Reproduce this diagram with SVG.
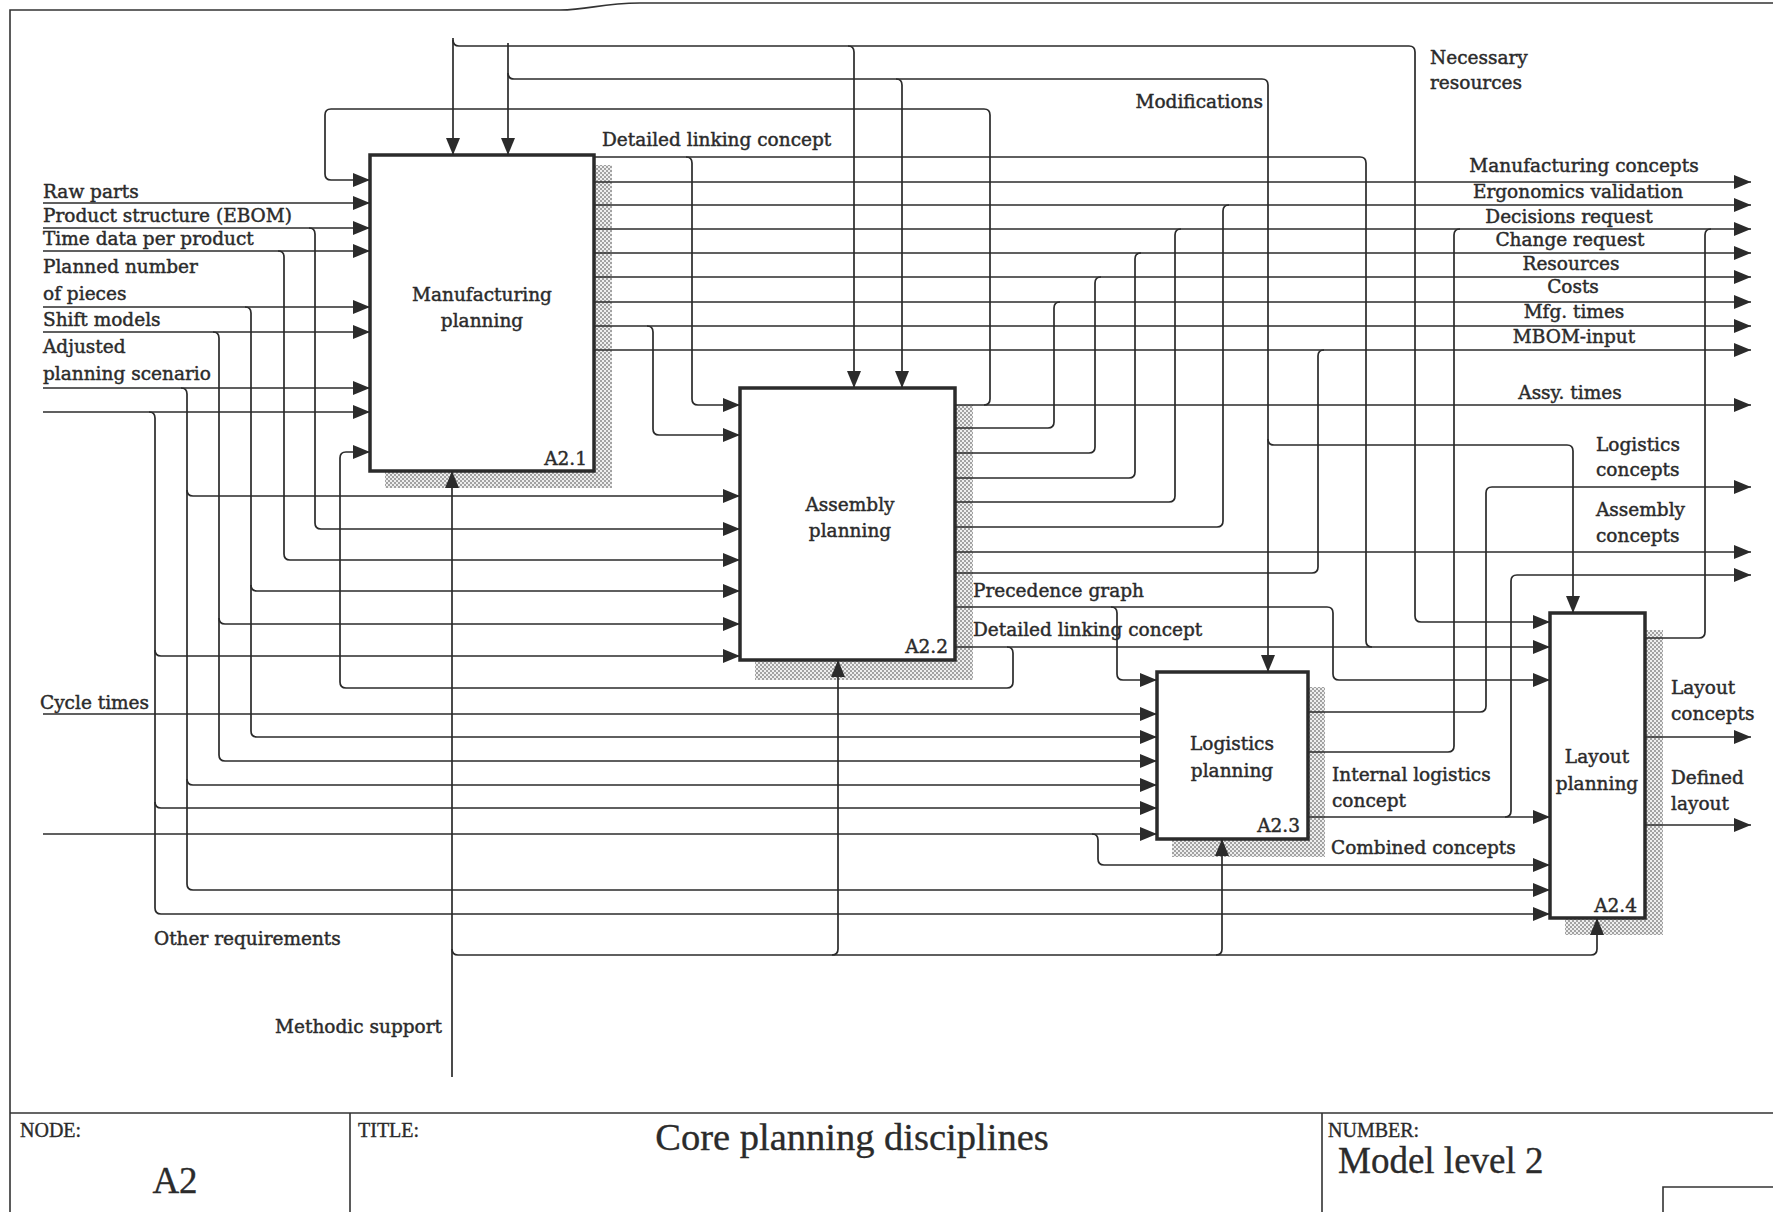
<svg xmlns="http://www.w3.org/2000/svg" width="1773" height="1212" viewBox="0 0 1773 1212">
  <defs>
    <marker id="ah" markerUnits="userSpaceOnUse" markerWidth="18" markerHeight="14" refX="17" refY="7" orient="auto">
      <path d="M0,0 L17,7 L0,14 z" fill="#2b2b2b"/>
    </marker>
    <pattern id="hatch" width="4" height="4" patternUnits="userSpaceOnUse">
      <rect width="4" height="4" fill="#eeeeee"/>
      <rect width="2" height="2" fill="#a2a2a2"/>
      <rect x="2" y="2" width="2" height="2" fill="#a2a2a2"/>
    </pattern>
    <style>
      .ln { fill: none; stroke: #2b2b2b; stroke-width: 1.7; }
      .ar { marker-end: url(#ah); }
      .box { fill: #fff; stroke: #2b2b2b; stroke-width: 3.5; }
      .sh { fill: url(#hatch); }
      .frame { fill: none; stroke: #333; stroke-width: 1.6; }
      .lbl { font-family: "DejaVu Serif", "Liberation Serif", serif; font-size: 18.5px; fill: #2b2b2b; stroke: #2b2b2b; stroke-width: 0.45; }
      .mid { text-anchor: middle; }
      .end { text-anchor: end; }
      .tb { font-family: "Liberation Serif", "DejaVu Serif", serif; fill: #2b2b2b; stroke: #2b2b2b; stroke-width: 0.35; }
    </style>
  </defs>

  <rect width="1773" height="1212" fill="#fff"/>

  <!-- sheet frame and title block -->
  <g id="frame">
    <path class="frame" d="M10,1212 V10 H560 C590,10 600,3 640,3 H1773"/>
    <path class="frame" d="M10,1113 H1773 M350,1113 V1212 M1322,1113 V1212 M1663,1212 V1187 H1773"/>
    <text class="tb" x="20" y="1137" font-size="20">NODE:</text>
    <text class="tb mid" x="175" y="1193" font-size="37">A2</text>
    <text class="tb" x="358" y="1137" font-size="20">TITLE:</text>
    <text class="tb mid" x="852" y="1150" font-size="38.5">Core planning disciplines</text>
    <text class="tb" x="1328" y="1137" font-size="20">NUMBER:</text>
    <text class="tb" x="1338" y="1173" font-size="37">Model level 2</text>
  </g>

  <!-- activity boxes -->
  <g id="node-a21">
    <rect class="sh" x="385" y="165" width="227" height="323"/>
    <rect class="box" x="370" y="155" width="224" height="316"/>
    <text class="lbl mid" x="482" y="301">Manufacturing</text>
    <text class="lbl mid" x="482" y="327">planning</text>
    <text class="lbl end" x="587" y="465">A2.1</text>
  </g>
  <g id="node-a22">
    <rect class="sh" x="755" y="405" width="218" height="275"/>
    <rect class="box" x="740" y="388" width="215" height="272"/>
    <text class="lbl mid" x="850" y="511">Assembly</text>
    <text class="lbl mid" x="850" y="537">planning</text>
    <text class="lbl end" x="948" y="653">A2.2</text>
  </g>
  <g id="node-a23">
    <rect class="sh" x="1172" y="687" width="153" height="170"/>
    <rect class="box" x="1157" y="672" width="151" height="167"/>
    <text class="lbl mid" x="1232" y="750">Logistics</text>
    <text class="lbl mid" x="1232" y="777">planning</text>
    <text class="lbl end" x="1300" y="832">A2.3</text>
  </g>
  <g id="node-a24">
    <rect class="sh" x="1565" y="630" width="98" height="305"/>
    <rect class="box" x="1550" y="613" width="95" height="305"/>
    <text class="lbl mid" x="1597" y="763">Layout</text>
    <text class="lbl mid" x="1597" y="790">planning</text>
    <text class="lbl end" x="1637" y="912">A2.4</text>
  </g>

  <!-- arrows -->
  <g id="connectors">
    <!-- controls from the top -->
    <path class="ln ar" d="M453,38 V155"/>
    <path class="ln ar" d="M508,43 V155"/>
    <path class="ln ar" d="M453,40 Q453,46 459,46 H1409 Q1415,46 1415,52 V616 Q1415,622 1421,622 H1550"/>
    <path class="ln ar" d="M848,46 Q854,46 854,52 V388"/>
    <path class="ln ar" d="M508,73 Q508,79 514,79 H1262 Q1268,79 1268,85 V672"/>
    <path class="ln ar" d="M896,79 Q902,79 902,85 V388"/>
    <path class="ln ar" d="M1268,439 Q1268,445 1274,445 H1567 Q1573,445 1573,451 V613"/>

    <!-- Assy. times and feedback to A2.1 -->
    <path class="ln ar" d="M955,405 H1751"/>
    <path class="ln ar" d="M984,405 Q990,405 990,399 V115 Q990,109 984,109 H331 Q325,109 325,115 V174 Q325,180 331,180 H370"/>

    <!-- outputs of A2.1 -->
    <path class="ln ar" d="M594,157 H1360 Q1366,157 1366,163 V641 Q1366,647 1372,647 H1550"/>
    <path class="ln ar" d="M686,157 Q692,157 692,163 V399 Q692,405 698,405 H740"/>
    <path class="ln ar" d="M594,182 H1751"/>
    <path class="ln ar" d="M594,205 H1751"/>
    <path class="ln ar" d="M594,229 H1751"/>
    <path class="ln ar" d="M594,253 H1751"/>
    <path class="ln ar" d="M594,277 H1751"/>
    <path class="ln ar" d="M594,302 H1751"/>
    <path class="ln ar" d="M594,326 H1751"/>
    <path class="ln ar" d="M647,326 Q653,326 653,332 V429 Q653,435 659,435 H740"/>
    <path class="ln ar" d="M594,350 H1751"/>

    <!-- outputs of A2.2 joining the output bundle -->
    <path class="ln" d="M955,428 H1048 Q1054,428 1054,422 V308 Q1054,302 1060,302"/>
    <path class="ln" d="M955,453 H1089 Q1095,453 1095,447 V283 Q1095,277 1101,277"/>
    <path class="ln" d="M955,478 H1129 Q1135,478 1135,472 V259 Q1135,253 1141,253"/>
    <path class="ln" d="M955,502 H1169 Q1175,502 1175,496 V235 Q1175,229 1181,229"/>
    <path class="ln" d="M955,527 H1217 Q1223,527 1223,521 V211 Q1223,205 1229,205"/>
    <path class="ln ar" d="M955,552 H1751"/>
    <path class="ln" d="M955,573 H1312 Q1318,573 1318,567 V356 Q1318,350 1324,350"/>
    <path class="ln ar" d="M955,607 H1327 Q1333,607 1333,613 V674 Q1333,680 1339,680 H1550"/>
    <path class="ln ar" d="M1111,607 Q1117,607 1117,613 V674 Q1117,680 1123,680 H1157"/>
    <path class="ln" d="M955,647 H1372"/>
    <path class="ln ar" d="M1007,647 Q1013,647 1013,653 V682 Q1013,688 1007,688 H346 Q340,688 340,682 V458 Q340,452 346,452 H370"/>

    <!-- outputs of A2.3 -->
    <path class="ln ar" d="M1308,712 H1480 Q1486,712 1486,706 V493 Q1486,487 1492,487 H1751"/>
    <path class="ln" d="M1308,752 H1448 Q1454,752 1454,746 V235 Q1454,229 1460,229"/>
    <path class="ln ar" d="M1308,817 H1550"/>
    <path class="ln ar" d="M1505,817 Q1511,817 1511,811 V581 Q1511,575 1517,575 H1751"/>

    <!-- outputs of A2.4 -->
    <path class="ln" d="M1645,638 H1699 Q1705,638 1705,632 V235 Q1705,229 1711,229"/>
    <path class="ln ar" d="M1645,737 H1751"/>
    <path class="ln ar" d="M1645,825 H1751"/>

    <!-- external inputs -->
    <path class="ln ar" d="M43,203 H370"/>
    <path class="ln ar" d="M43,228 H370"/>
    <path class="ln ar" d="M309,228 Q315,228 315,234 V523 Q315,529 321,529 H740"/>
    <path class="ln ar" d="M43,251 H370"/>
    <path class="ln ar" d="M278,251 Q284,251 284,257 V554 Q284,560 290,560 H740"/>
    <path class="ln ar" d="M43,307 H370"/>
    <path class="ln ar" d="M245,307 Q251,307 251,313 V731 Q251,737 257,737 H1157"/>
    <path class="ln ar" d="M251,585 Q251,591 257,591 H740"/>
    <path class="ln ar" d="M43,332 H370"/>
    <path class="ln ar" d="M213,332 Q219,332 219,338 V755 Q219,761 225,761 H1157"/>
    <path class="ln ar" d="M219,618 Q219,624 225,624 H740"/>
    <path class="ln ar" d="M43,388 H370"/>
    <path class="ln ar" d="M181,388 Q187,388 187,394 V884 Q187,890 193,890 H1550"/>
    <path class="ln ar" d="M187,490 Q187,496 193,496 H740"/>
    <path class="ln ar" d="M187,779 Q187,785 193,785 H1157"/>
    <path class="ln ar" d="M43,412 H370"/>
    <path class="ln ar" d="M149,412 Q155,412 155,418 V908 Q155,914 161,914 H1550"/>
    <path class="ln ar" d="M155,650 Q155,656 161,656 H740"/>
    <path class="ln ar" d="M155,802 Q155,808 161,808 H1157"/>
    <path class="ln ar" d="M43,714 H1157"/>
    <path class="ln ar" d="M43,834 H1157"/>
    <path class="ln ar" d="M1092,834 Q1098,834 1098,840 V859 Q1098,865 1104,865 H1550"/>

    <!-- mechanism from below -->
    <path class="ln ar" d="M452,1077 V471"/>
    <path class="ln ar" d="M452,949 Q452,955 458,955 H1591 Q1597,955 1597,949 V918"/>
    <path class="ln ar" d="M832,955 Q838,955 838,949 V660"/>
    <path class="ln ar" d="M1216,955 Q1222,955 1222,949 V839"/>
  </g>

  <!-- arrow labels -->
  <g id="labels" class="lbl">
    <text x="43" y="198">Raw parts</text>
    <text x="43" y="222">Product structure (EBOM)</text>
    <text x="43" y="245">Time data per product</text>
    <text x="43" y="273">Planned number</text>
    <text x="43" y="300">of pieces</text>
    <text x="43" y="326">Shift models</text>
    <text x="43" y="353">Adjusted</text>
    <text x="43" y="380">planning scenario</text>
    <text x="40" y="709">Cycle times</text>
    <text x="154" y="945">Other requirements</text>
    <text class="end" x="442" y="1033">Methodic support</text>

    <text x="602" y="146">Detailed linking concept</text>
    <text class="end" x="1263" y="108">Modifications</text>
    <text x="1430" y="64">Necessary</text>
    <text x="1430" y="89">resources</text>

    <text class="mid" x="1584" y="172">Manufacturing concepts</text>
    <text class="mid" x="1578" y="198">Ergonomics validation</text>
    <text class="mid" x="1569" y="223">Decisions request</text>
    <text class="mid" x="1570" y="246">Change request</text>
    <text class="mid" x="1571" y="270">Resources</text>
    <text class="mid" x="1573" y="293">Costs</text>
    <text class="mid" x="1574" y="318">Mfg. times</text>
    <text class="mid" x="1574" y="343">MBOM-input</text>
    <text class="mid" x="1570" y="399">Assy. times</text>

    <text x="1596" y="451">Logistics</text>
    <text x="1596" y="476">concepts</text>
    <text x="1596" y="516">Assembly</text>
    <text x="1596" y="542">concepts</text>

    <text x="973" y="597">Precedence graph</text>
    <text x="973" y="636">Detailed linking concept</text>

    <text x="1332" y="781">Internal logistics</text>
    <text x="1332" y="807">concept</text>
    <text x="1331" y="854">Combined concepts</text>

    <text x="1671" y="694">Layout</text>
    <text x="1671" y="720">concepts</text>
    <text x="1671" y="784">Defined</text>
    <text x="1671" y="810">layout</text>
  </g>
</svg>
